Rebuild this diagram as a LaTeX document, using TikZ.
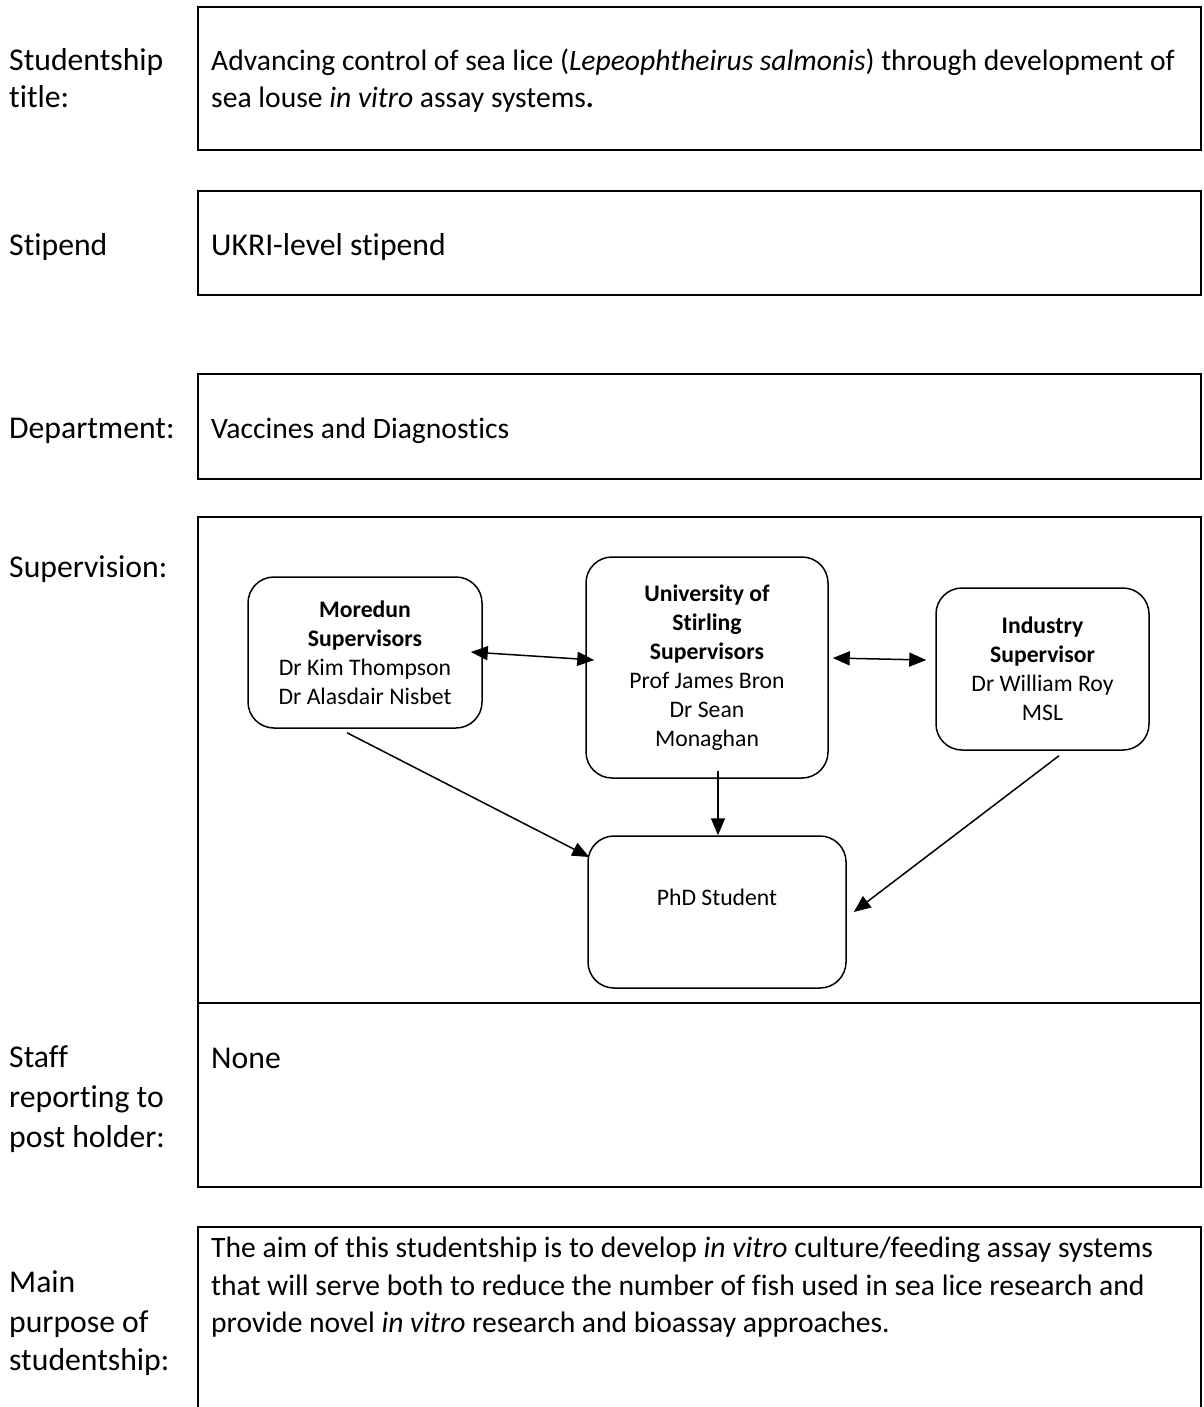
\documentclass[tikz,border=0pt]{standalone}
\usepackage{fontspec}
\setmainfont{Carlito}[Ligatures=NoCommon]
\usetikzlibrary{arrows.meta,calc}
\begin{document}
\begin{tikzpicture}[x=1pt,y=-1pt,
  frame/.style={line width=2.7pt},
  lbl/.style={anchor=base west,inner sep=0pt,font=\fontsize{31.7}{38}\selectfont},
  sml/.style={anchor=base west,inner sep=0pt,font=\fontsize{29.6}{36}\selectfont},
  sup/.style={draw,line width=1.5pt,rounded corners=26pt,inner sep=0pt,align=center,font=\fontsize{23.7}{29.1}\selectfont},
  arr/.style={line width=1.5pt,-{Triangle[length=17pt,width=14pt]}},
  darr/.style={line width=1.5pt,{Triangle[length=17pt,width=14pt]}-{Triangle[length=17pt,width=14pt]}}]
\fill[white] (0,0) rectangle (1203,1407);
\useasboundingbox (0,0) rectangle (1203,1407);

% table frames
\draw[frame] (198,7) rectangle (1201,150);
\draw[frame] (198,191) rectangle (1201,295);
\draw[frame] (198,374) rectangle (1201,479);
\draw[frame] (198,517) rectangle (1201,1187);
\draw[frame] (198,1003) -- (1201,1003);
\draw[frame] (198,1420) -- (198,1227) -- (1201,1227) -- (1201,1420);

% left labels
\node[lbl] (l1a) at (9,71) {Studentship};
\node[lbl] (l1b) at (9,108) {title:};
\node[lbl] (l2) at (9,255) {Stipend};
\node[lbl] (l3) at (9,438) {Department:};
\node[lbl] (l4) at (9,577) {Supervision:};
\node[lbl] (l5a) at (9,1067) {Staff};
\node[lbl] (l5b) at (9,1107) {reporting to};
\node[lbl] (l5c) at (9,1147) {post holder:};
\node[lbl] (l6a) at (9,1292) {Main};
\node[lbl] (l6b) at (9,1332) {purpose of};
\node[lbl] (l6c) at (9,1370) {studentship:};

% body texts
\node[sml] (t1a) at (211,71) {Advancing control of sea lice (\textit{Lepeophtheirus salmonis}) through development of};
\node[sml] (t1b) at (211,108) {sea louse \textit{in vitro} assay systems\textbf{.}};
\node[lbl] (t2) at (211,255) {UKRI-level stipend};
\node[sml] (t3) at (211,438) {Vaccines and Diagnostics};
\node[lbl] (t5) at (211,1068) {None};
\node[sml] (t6a) at (211,1257) {The aim of this studentship is to develop \textit{in vitro} culture/feeding assay systems};
\node[sml] (t6b) at (211,1295) {that will serve both to reduce the number of fish used in sea lice research and};
\node[sml] (t6c) at (211,1332) {provide novel \textit{in vitro} research and bioassay approaches.};

% supervision chart
\node[sup,minimum width=234pt,minimum height=151pt] (m) at (365,652.5)
  {\textbf{Moredun}\\\textbf{Supervisors}\\Dr Kim Thompson\\Dr Alasdair Nisbet};
\node[sup,minimum width=242pt,minimum height=221pt] (s) at (707,667.5)
  {\textbf{University of}\\\textbf{Stirling}\\\textbf{Supervisors}\\Prof James Bron\\Dr Sean\\Monaghan};
\node[sup,minimum width=213pt,minimum height=162pt] (i) at (1042.5,669)
  {\textbf{Industry}\\\textbf{Supervisor}\\Dr William Roy\\MSL};
\node[sup,minimum width=258pt,minimum height=152pt] (p) at (717,912)
  {PhD Student\\\mbox{}};

\draw[darr] ($(m.east)+(-12,-0.5)$) -- ($(s.west)+(9,-7.5)$);
\draw[darr] ($(s.east)+(4,-9.5)$) -- ($(i.west)+(-9,-9)$);
\draw[arr] ($(s.south)+(11,-8)$) -- ($(p.north)+(1,0)$);
\draw[arr] ($(m.south)+(-18,4)$) -- ($(p.west)+(2,-55)$);
\draw[arr] ($(i.south)+(16.5,5)$) -- ($(p.east)+(7,0)$);
\end{tikzpicture}
\end{document}
